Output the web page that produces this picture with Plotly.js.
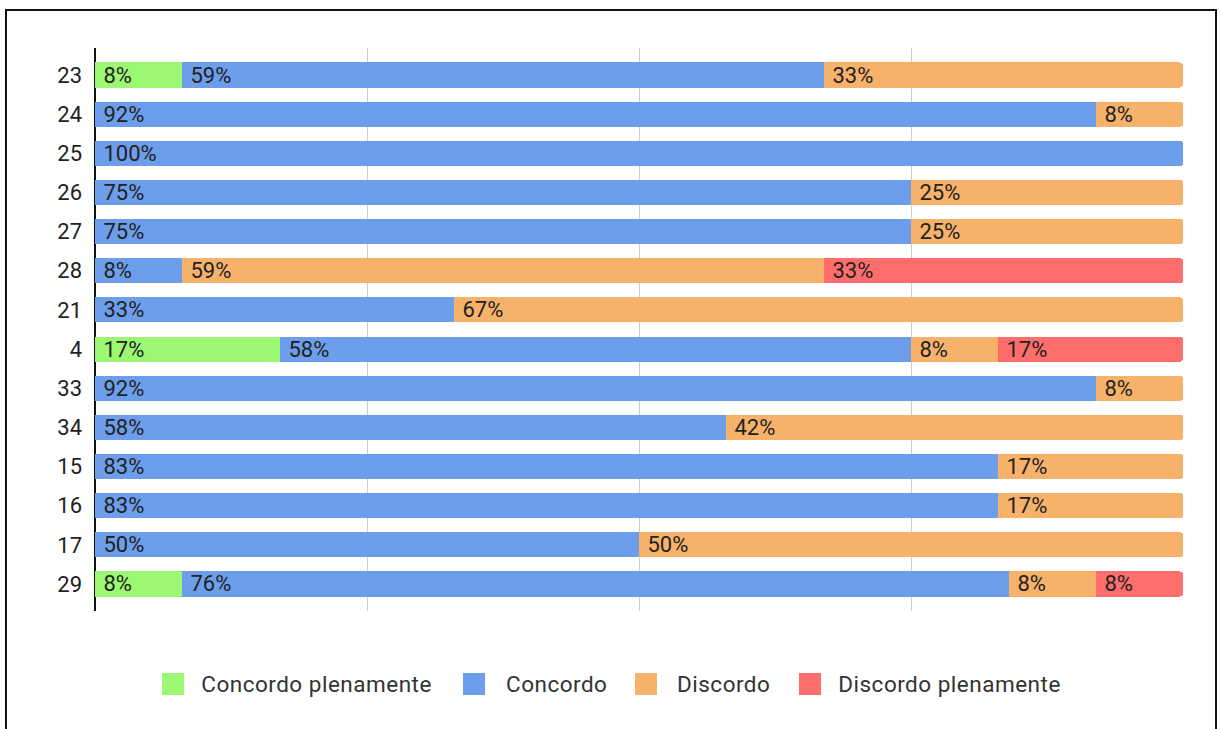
<!DOCTYPE html>
<html>
<head>
<meta charset="utf-8">
<script src="https://cdn.plot.ly/plotly-3.0.1.min.js"></script>
<style>
html,body{margin:0;padding:0;background:#fff;width:1220px;height:729px;overflow:hidden;}
#frame{position:absolute;left:5px;top:9px;width:1208px;height:760px;border:2px solid #111;border-bottom:none;}
#chart{position:absolute;left:0;top:0;width:1220px;height:729px;}
#chart .annotation-text{letter-spacing:0.5px;}
</style>
</head>
<body>
<div id="frame"></div>
<div id="chart"></div>
<script>
// Categories (top to bottom)
const questions = ['23','24','25','26','27','28','21','4','33','34','15','16','17','29'];
// Series names and colours
const seriesNames = ['Concordo plenamente','Concordo','Discordo','Discordo plenamente'];
const seriesColors = ['#9cf772','#6d9eeb','#f6b26b','#ff6d6d'];
// Percentages per question
const concordoPlenamente  = [8, 0, 0, 0, 0, 0, 0, 17, 0, 0, 0, 0, 0, 8];
const concordo            = [59, 92, 100, 75, 75, 8, 33, 58, 92, 58, 83, 83, 50, 76];
const discordo            = [33, 8, 0, 25, 25, 59, 67, 8, 8, 42, 17, 17, 50, 8];
const discordoPlenamente  = [0, 0, 0, 0, 0, 33, 0, 17, 0, 0, 0, 0, 0, 8];

const seriesValues = [concordoPlenamente, concordo, discordo, discordoPlenamente];

const W = 1220, H = 729, ML = 95, MR = 37, MT = 48, MB = 118;
const pw = W - ML - MR, ph = H - MT - MB;
const px2x = p => (p - ML) / pw;
const px2y = p => (H - MB - p) / ph;

const traces = seriesValues.map((vals, i) => ({
  type: 'bar',
  orientation: 'h',
  name: seriesNames[i],
  y: questions,
  x: vals.map(v => v ? v : null),
  text: vals.map(v => v ? '\u00A0' + v + '%' : ''),
  textposition: 'inside',
  insidetextanchor: 'start',
  constraintext: 'none',
  textangle: 0,
  insidetextfont: {family: 'Roboto, Arial, sans-serif', size: 22, color: '#222'},
  marker: {color: seriesColors[i], line: {width: 0}},
  hoverinfo: 'none',
  showlegend: false
}));

// Custom legend (large square swatches, as in the reference)
const legSquareLeft = [162, 463, 635, 799];
const legTextLeft = [204, 506, 677, 841];
const legCenter = 684, sq = 22;
const shapes = [], annotations = [];
seriesNames.forEach((n, i) => {
  shapes.push({
    type: 'rect', xref: 'paper', yref: 'paper',
    x0: px2x(legSquareLeft[i]), x1: px2x(legSquareLeft[i] + sq),
    y0: px2y(legCenter + sq / 2), y1: px2y(legCenter - sq / 2),
    fillcolor: seriesColors[i], line: {width: 0}
  });
  annotations.push({
    xref: 'paper', yref: 'paper', x: px2x(legTextLeft[i]), y: px2y(legCenter),
    xanchor: 'left', yanchor: 'middle', showarrow: false, text: n,
    font: {family: 'Roboto, Arial, sans-serif', size: 22.5, color: '#333'}
  });
});

const n = questions.length;
const layout = {
  width: W, height: H,
  margin: {l: ML, r: MR, t: MT, b: MB, pad: 0},
  paper_bgcolor: 'rgba(0,0,0,0)',
  plot_bgcolor: 'rgba(0,0,0,0)',
  barmode: 'stack',
  bargap: 0.36,
  barcornerradius: 3,
  showlegend: false,
  xaxis: {
    range: [0, 100], dtick: 25, tick0: 0,
    showticklabels: false, ticks: '',
    showgrid: true, gridcolor: '#cccccc', gridwidth: 1,
    zeroline: true, zerolinecolor: '#111', zerolinewidth: 1.5,
    showline: false, fixedrange: true
  },
  yaxis: {
    type: 'category',
    categoryorder: 'array', categoryarray: questions,
    range: [n - 1 + 0.69, -0.69],
    showgrid: false, zeroline: false, showline: false,
    ticks: '', ticklabelstandoff: 12,
    tickfont: {family: 'Roboto, Arial, sans-serif', size: 22, color: '#222'},
    fixedrange: true
  },
  shapes: shapes,
  annotations: annotations,
  font: {family: 'Roboto, Arial, sans-serif'}
};

Plotly.newPlot('chart', traces, layout, {displayModeBar: false, staticPlot: true});
</script>
</body>
</html>
